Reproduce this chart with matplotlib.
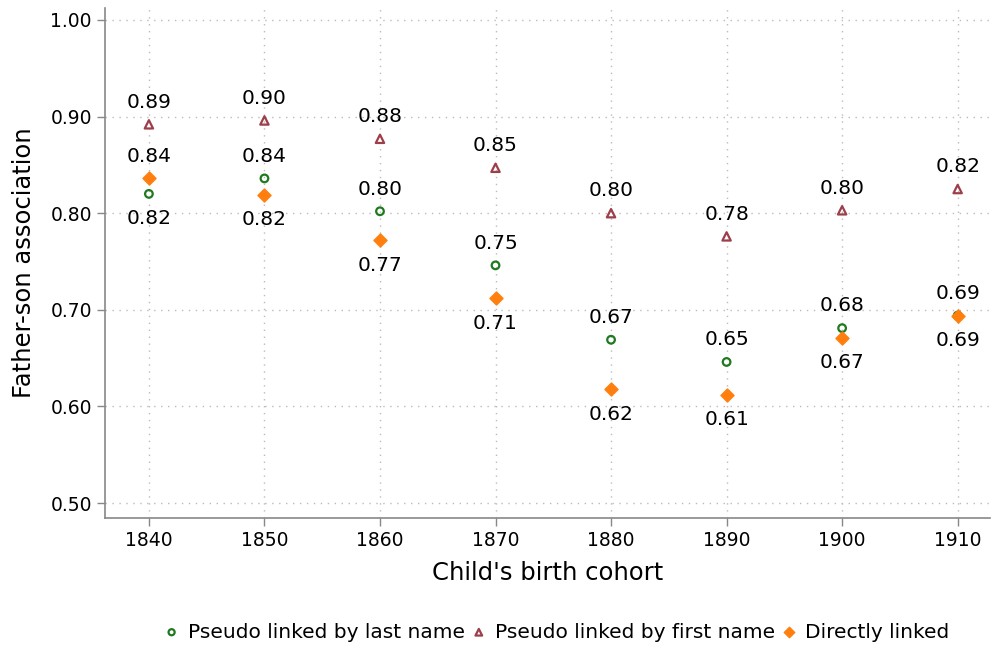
import matplotlib
matplotlib.use("Agg")
import matplotlib.pyplot as plt

cohorts = [1840, 1850, 1860, 1870, 1880, 1890, 1900, 1910]
last_name = [0.820, 0.836, 0.802, 0.746, 0.669, 0.646, 0.681, 0.694]
first_name = [0.892, 0.896, 0.877, 0.847, 0.800, 0.776, 0.803, 0.825]
direct = [0.836, 0.819, 0.772, 0.712, 0.618, 0.612, 0.671, 0.694]
yticks = [0.50, 0.60, 0.70, 0.80, 0.90, 1.00]

fig = plt.figure(figsize=(9.92, 6.47), dpi=100)
ax = fig.add_axes([105/992, 1 - 518/647, 885/992, 510/647])

green = "#1f7a1f"
red = "#9c3f4a"
orange = "#ff7f0e"

ax.scatter(cohorts, last_name, marker="o", s=30, facecolors="none", edgecolors=green, linewidths=1.6, zorder=3, label="Pseudo linked by last name")
ax.scatter(cohorts, first_name, marker="^", s=36, facecolors="none", edgecolors=red, linewidths=1.6, zorder=3, label="Pseudo linked by first name")
ax.scatter(cohorts, direct, marker="D", s=44, color=orange, zorder=4, label="Directly linked")

fs = 14.5
def lab(x, v, up):
    ax.annotate(f"{v:.2f}", (x, v), xytext=(0, 16 if up else -18), textcoords="offset points",
                ha="center", va="center", fontsize=fs)

for x, v in zip(cohorts, first_name):
    lab(x, v, True)
for x, a, b in zip(cohorts, last_name, direct):
    if x == 1910:
        lab(x, b, True)
        lab(x, a, False)
    elif a >= b:
        lab(x, a, True)
        lab(x, b, False)
    else:
        lab(x, b, True)
        lab(x, a, False)

ax.set_xlim(1836.2, 1912.8)
ax.set_ylim(0.4845, 1.0124)
ax.set_xticks(cohorts)
ax.set_yticks(yticks)
ax.set_yticklabels([f"{t:.2f}" for t in yticks])
ax.tick_params(labelsize=13.5, color="#888888", length=6, width=1)
ax.grid(True, linestyle=(0, (1, 4)), color="#bbbbbb", linewidth=1)
ax.set_axisbelow(True)
for s in ["top", "right"]:
    ax.spines[s].set_visible(False)
for s in ["left", "bottom"]:
    ax.spines[s].set_color("#888888")
    ax.spines[s].set_linewidth(1.2)

ax.set_xlabel("Child's birth cohort", fontsize=17.5, labelpad=8)
ax.set_ylabel("Father-son association", fontsize=17.5, labelpad=10)

fig.legend(loc="center", bbox_to_anchor=(0.56, 1 - 632/647), ncol=3, frameon=False,
           fontsize=14.5, handletextpad=0.3, columnspacing=0.2, markerscale=0.8, handlelength=1.0)

fig.savefig("out.png", dpi=100)
